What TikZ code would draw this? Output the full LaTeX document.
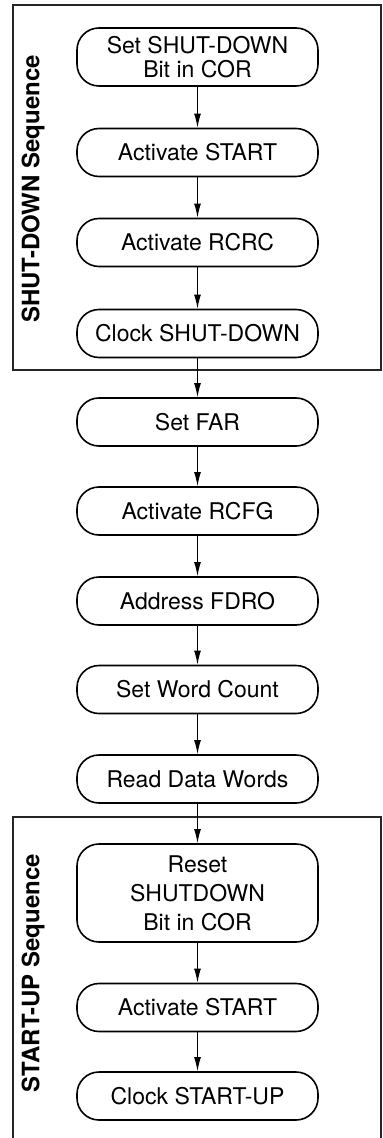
\documentclass[tikz,border=0pt]{standalone}
\usepackage{fontspec}
\setmainfont{TeX Gyre Heros}
\usepackage{tikz}
\usetikzlibrary{arrows.meta,positioning}

\begin{document}
\begin{tikzpicture}[x=0.5pt,y=-0.5pt,
  stepbox/.style={draw, line width=0.8pt, rounded corners=11pt, minimum width=120.5pt, minimum height=24pt, inner sep=2pt, align=center, font=\fontsize{11.5}{12}\selectfont},
  flow/.style={-{Latex[length=7pt,width=3.4pt]}, line width=0.5pt},
  seqbox/.style={line width=0.6pt, draw=black!85},
  seqlabel/.style={rotate=90, font=\fontsize{12}{14}\selectfont\bfseries}]
\useasboundingbox (0,0) rectangle (383,1138);

\draw[seqbox] (13,5) rectangle (381,370);
\draw[seqbox] (13,1138) |- (381,817) -- (381,1138);
\node[seqlabel] (sdlab) at (33,189) {SHUT-DOWN Sequence};
\node[seqlabel] (sulab) at (33,973) {START-UP Sequence};

\node[stepbox, minimum height=29pt] (setsd) at (197.5,57) {Set SHUT-DOWN\\Bit in COR};
\node[stepbox] (actstart) at (197.5,152.5) {Activate START};
\node[stepbox] (actrcrc) at (197.5,242.5) {Activate RCRC};
\node[stepbox] (clksd) at (197.5,333.5) {Clock SHUT-DOWN};
\node[stepbox] (setfar) at (197.5,422) {Set FAR};
\node[stepbox] (actrcfg) at (197.5,511) {Activate RCFG};
\node[stepbox] (addr) at (197.5,601) {Address FDRO};
\node[stepbox] (wcount) at (197.5,689.5) {Set Word Count};
\node[stepbox] (rdata) at (197.5,779) {Read Data Words};
\node[stepbox, minimum height=49pt, font=\fontsize{11.5}{14.5}\selectfont] (resetsd) at (197.5,893) {Reset\\SHUTDOWN\\Bit in COR};
\node[stepbox] (actstart2) at (197.5,1007.5) {Activate START};
\node[stepbox] (clksu) at (197.5,1096) {Clock START-UP};

\draw[flow] (setsd) -- (actstart);
\draw[flow] (actstart) -- (actrcrc);
\draw[flow] (actrcrc) -- (clksd);
\draw[flow] (clksd) -- (setfar);
\draw[flow] (setfar) -- (actrcfg);
\draw[flow] (actrcfg) -- (addr);
\draw[flow] (addr) -- (wcount);
\draw[flow] (wcount) -- (rdata);
\draw[flow] (rdata) -- (resetsd);
\draw[flow] (resetsd) -- (actstart2);
\draw[flow] (actstart2) -- (clksu);
\end{tikzpicture}
\end{document}
